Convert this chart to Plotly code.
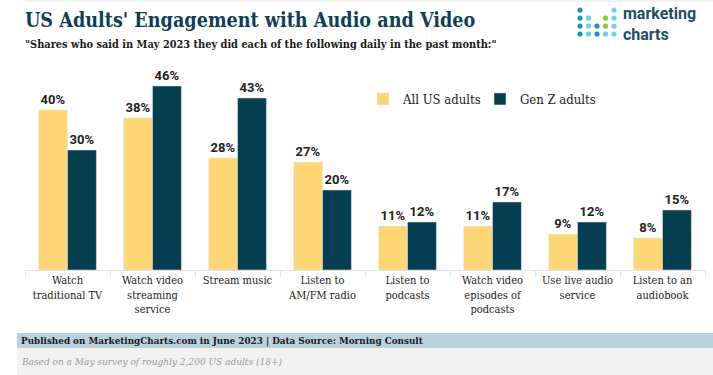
import plotly.graph_objects as go

categories = ["Watch<br>traditional TV", "Watch video<br>streaming<br>service", "Stream music",
              "Listen to<br>AM/FM radio", "Listen to<br>podcasts", "Watch video<br>episodes of<br>podcasts",
              "Use live audio<br>service", "Listen to an<br>audiobook"]
all_adults = [40, 38, 28, 27, 11, 11, 9, 8]
gen_z = [30, 46, 43, 20, 12, 17, 12, 15]

YELLOW = "#FDD676"
DARK = "#053E50"
SERIF = "DejaVu Serif Condensed, DejaVu Serif, serif"
SANS = "Roboto"

W, H = 713, 375
L, R, T, B = 25, 8, 70, 105
PW = W - L - R
PH = H - T - B


def px(x):
    return (x - L) / PW


def py(y):
    return (H - B - y) / PH


fig = go.Figure()
fig.add_bar(x=categories, y=all_adults, name="All US adults", marker_color=YELLOW,
            text=[f"<b>{v}%</b>" for v in all_adults], textposition="outside",
            textfont=dict(family=SANS, size=13, color="#222"), cliponaxis=False)
fig.add_bar(x=categories, y=gen_z, name="Gen Z adults", marker_color=DARK,
            text=[f"<b>{v}%</b>" for v in gen_z], textposition="outside",
            textfont=dict(family=SANS, size=13, color="#222"), cliponaxis=False)

shapes = []
annotations = []

# footer bands
shapes.append(dict(type="rect", xref="paper", yref="paper", x0=px(17), x1=px(713), y0=py(348), y1=py(333),
                   fillcolor="#BBD1DD", line_width=0, layer="below"))
shapes.append(dict(type="rect", xref="paper", yref="paper", x0=px(17), x1=px(713), y0=py(375), y1=py(348),
                   fillcolor="#F2F2F2", line_width=0, layer="below"))
shapes.append(dict(type="line", xref="paper", yref="paper", x0=px(25), x1=px(713), y0=py(1), y1=py(1),
                   line=dict(color="#E6E6E6", width=1)))

# logo dots
cols = [580, 588.5, 597, 605.5, 614]
rows = [10, 18, 26, 34]
blue, cyan, green = "#1B8EC2", "#6FD3DC", "#8CCB3C"
pattern = [
    [blue, None, None, None, cyan],
    [blue, cyan, None, green, cyan],
    [blue, cyan, blue, green, cyan],
    [blue, cyan, blue, cyan, cyan],
]
for ri, row in enumerate(pattern):
    for ci, c in enumerate(row):
        if c:
            cx, cy = cols[ci], rows[ri]
            shapes.append(dict(type="circle", xref="paper", yref="paper",
                               x0=px(cx - 2.6), x1=px(cx + 2.6), y0=py(cy + 2.6), y1=py(cy - 2.6),
                               fillcolor=c, line_width=0))
annotations.append(dict(xref="paper", yref="paper", x=px(621), y=py(24), xanchor="left", yanchor="middle",
                        text="<b>marketing</b><br><b>charts</b>", showarrow=False, align="left",
                        font=dict(family=SANS, size=16, color="#1E4E66")))

# titles
annotations.append(dict(xref="paper", yref="paper", x=px(23), y=py(21), xanchor="left", yanchor="middle",
                        text="<b>US Adults' Engagement with Audio and Video</b>", showarrow=False,
                        font=dict(family=SERIF, size=19.6, color="#0E3F55")))
annotations.append(dict(xref="paper", yref="paper", x=px(23), y=py(44), xanchor="left", yanchor="middle",
                        text="<b>\"Shares who said in May 2023 they did each of the following daily in the past month:\"</b>",
                        showarrow=False, font=dict(family=SERIF, size=10.9, color="#1A1A1A")))

# footer text
annotations.append(dict(xref="paper", yref="paper", x=px(19), y=py(341), xanchor="left", yanchor="middle",
                        text="<b>Published on MarketingCharts.com in June 2023 | Data Source: Morning Consult</b>",
                        showarrow=False, font=dict(family=SERIF, size=9.8, color="#1A1A1A")))
annotations.append(dict(xref="paper", yref="paper", x=px(19), y=py(361), xanchor="left", yanchor="middle",
                        text="<i>Based on a May survey of roughly 2,200 US adults (18+)</i>",
                        showarrow=False, font=dict(family=SERIF, size=10, color="#9A9A9A")))

fig.update_layout(
    width=W, height=H,
    margin=dict(l=L, r=R, t=T, b=B),
    paper_bgcolor="white", plot_bgcolor="white",
    barmode="group", bargap=0.32, bargroupgap=0,
    showlegend=True,
    legend=dict(orientation="h", x=px(363), y=py(99), xanchor="left", yanchor="middle",
                font=dict(family=SERIF, size=13, color="#222"), itemwidth=30,
                entrywidth=72, entrywidthmode="pixels",
                bgcolor="rgba(0,0,0,0)"),
    shapes=shapes, annotations=annotations,
    xaxis=dict(tickfont=dict(family=SERIF, size=11, color="#222"), showline=True, linecolor="#E3E3E3",
               ticks="outside", tickson="boundaries", ticklen=6, tickcolor="#E3E3E3", showgrid=False),
    yaxis=dict(range=[0, 50], visible=False, showgrid=False),
)

fig.write_html("out.html")
